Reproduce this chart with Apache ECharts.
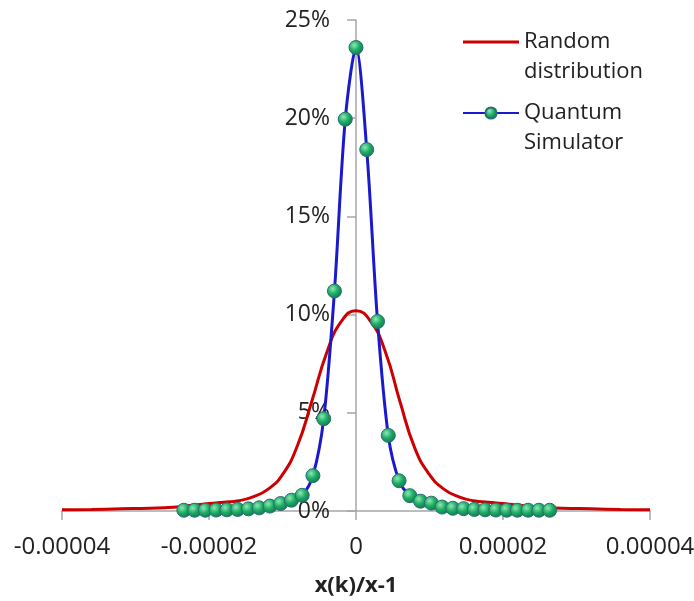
<!DOCTYPE html>
<html>
<head>
<meta charset="utf-8">
<script src="https://cdn.jsdelivr.net/npm/echarts@6/dist/echarts.min.js"></script>
<style>
html,body{margin:0;padding:0;background:#fff;}
#chart{width:694px;height:601px;}
</style>
</head>
<body>
<div id="chart"></div>
<script>
// Random distribution (smooth curve), y in %
const randomX = [-40e-6,-36e-6,-32e-6,-28e-6,-26e-6,-24e-6,-22e-6,-20e-6,-18e-6,-16e-6,-14e-6,-12e-6,-10e-6,-8e-6,-6e-6,-4e-6,-2e-6,0,
  2e-6,4e-6,6e-6,8e-6,10e-6,12e-6,14e-6,16e-6,18e-6,20e-6,22e-6,24e-6,26e-6,28e-6,32e-6,36e-6,40e-6];
const randomY = [0.06,0.08,0.11,0.14,0.17,0.22,0.30,0.38,0.45,0.52,0.72,1.10,1.85,3.30,5.60,8.05,9.65,10.20,
  9.65,8.10,5.55,3.20,1.85,1.10,0.72,0.52,0.45,0.38,0.30,0.22,0.17,0.14,0.11,0.08,0.06];

// Quantum Simulator (points with markers), y in %
const quantumX = [-23.42e-6,-21.96e-6,-20.50e-6,-19.03e-6,-17.57e-6,-16.10e-6,-14.64e-6,-13.18e-6,-11.71e-6,-10.25e-6,-8.78e-6,-7.32e-6,-5.86e-6,-4.39e-6,-2.93e-6,-1.46e-6,0,
  1.46e-6,2.93e-6,4.39e-6,5.86e-6,7.32e-6,8.78e-6,10.25e-6,11.71e-6,13.18e-6,14.64e-6,16.10e-6,17.57e-6,19.03e-6,20.50e-6,21.96e-6,23.42e-6,24.89e-6,26.35e-6];
const quantumY = [0.04,0.04,0.04,0.05,0.06,0.08,0.11,0.16,0.25,0.38,0.55,0.80,1.80,4.70,11.20,19.95,23.60,
  18.40,9.65,3.85,1.54,0.78,0.50,0.40,0.20,0.14,0.12,0.08,0.06,0.05,0.04,0.04,0.04,0.04,0.04];

const seriesNames = ['Random distribution', 'Quantum Simulator'];
const xTicks = [-0.00004, -0.00002, 0, 0.00002, 0.00004];
const yTicks = [0, 5, 10, 15, 20, 25];

const FONT = '"Open Sans", "Noto Sans", sans-serif';
const chart = echarts.init(document.getElementById('chart'), null, {renderer: 'canvas'});

const markerFill = {
  type: 'radial', x: 0.38, y: 0.35, r: 0.75,
  colorStops: [
    {offset: 0, color: '#8ee8b4'},
    {offset: 0.45, color: '#1fae66'},
    {offset: 1, color: '#0b6b4a'}
  ]
};

const GRID_LEFT = 62, GRID_RIGHT = 44;
const plotWidth = 694 - GRID_LEFT - GRID_RIGHT;
const zeroOffset = plotWidth * (0 - xTicks[0]) / (xTicks[xTicks.length - 1] - xTicks[0]);

chart.setOption({
  animation: false,
  backgroundColor: '#ffffff',
  textStyle: {fontFamily: FONT},
  grid: {left: GRID_LEFT, right: GRID_RIGHT, top: 20, bottom: 90, containLabel: false, outerBoundsMode: 'none'},
  legend: {
    orient: 'vertical',
    left: 462,
    top: -3,
    padding: 0,
    itemWidth: 56,
    itemHeight: 14,
    itemGap: -19,
    data: [
      {name: seriesNames[0], icon: 'path://M0,0L0.01,0L0.01,0.01Z M0,5.5L56,5.5L56,8.5L0,8.5Z M0,14L0.01,14L0.01,13.99Z'},
      {name: seriesNames[1]}
    ],
    formatter: function (name) { return ' \n' + name.replace(' ', '\n'); },
    textStyle: {fontFamily: FONT, fontSize: 22, lineHeight: 30, color: '#222'}
  },
  xAxis: {
    type: 'value',
    min: xTicks[0],
    max: xTicks[xTicks.length - 1],
    interval: 0.00002,
    name: 'x(k)/x-1',
    nameLocation: 'middle',
    nameGap: 64,
    nameTextStyle: {fontFamily: FONT, fontSize: 22, fontWeight: 'bold', color: '#222'},
    splitLine: {show: false},
    axisLine: {show: true, lineStyle: {color: '#a6a6a6', width: 1.5}},
    axisTick: {show: true, length: 9, lineStyle: {color: '#a6a6a6', width: 1.5}},
    axisLabel: {
      fontFamily: FONT, fontSize: 24, color: '#222', margin: 24,
      formatter: function (v) { return Math.abs(v) < 1e-12 ? '0' : v.toFixed(5); }
    }
  },
  yAxis: {
    type: 'value',
    min: yTicks[0],
    max: yTicks[yTicks.length - 1],
    interval: 5,
    offset: -zeroOffset,
    splitLine: {show: false},
    axisLine: {show: true, onZero: false, lineStyle: {color: '#a6a6a6', width: 1.5}},
    axisTick: {show: true, length: 9, lineStyle: {color: '#a6a6a6', width: 1.5}},
    axisLabel: {
      fontFamily: FONT, fontSize: 23, color: '#222', margin: 26,
      formatter: function (v) { return v + '%'; }
    }
  },
  series: [
    {
      name: seriesNames[0],
      type: 'line',
      data: randomX.map((x, i) => [x, randomY[i]]),
      smooth: 0.5,
      symbol: 'none',
      lineStyle: {color: '#cc0000', width: 3},
      itemStyle: {color: '#cc0000'},
      z: 2
    },
    {
      name: seriesNames[1],
      type: 'line',
      data: quantumX.map((x, i) => [x, quantumY[i]]),
      smooth: 0.3,
      symbol: 'circle',
      symbolSize: 14,
      showAllSymbol: true,
      lineStyle: {color: '#1a1acc', width: 3},
      itemStyle: {color: markerFill, borderColor: '#2b6e72', borderWidth: 1},
      z: 3
    }
  ]
});
</script>
</body>
</html>
